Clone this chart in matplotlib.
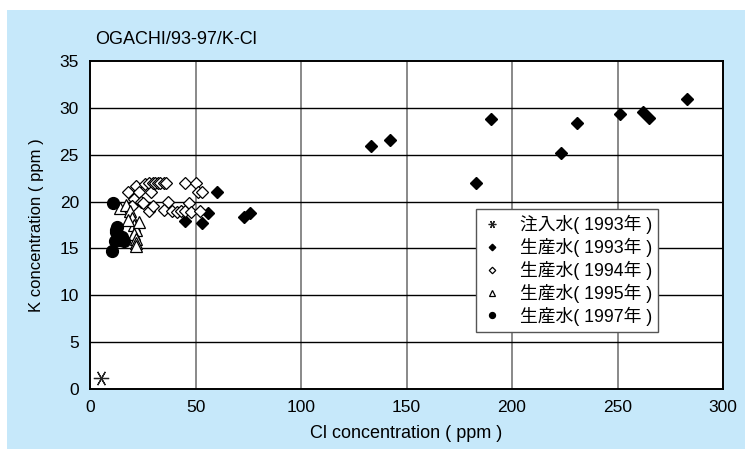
import matplotlib
matplotlib.use('Agg')
import matplotlib.pyplot as plt
from matplotlib.patches import Rectangle

plt.rcParams['font.family'] = ['Liberation Sans', 'Noto Sans CJK JP', 'DejaVu Sans']

# 注入水 1993
inj93_cl = [5]
inj93_k = [1.2]

# 生産水 1993
prod93_cl = [45, 53, 56, 60, 73, 76, 133, 142, 183, 190, 223, 231, 251, 262, 265, 283]
prod93_k = [17.9, 17.7, 18.8, 21.0, 18.4, 18.8, 25.9, 26.6, 22.0, 28.8, 25.2, 28.4, 29.3, 29.6, 28.9, 30.9]

# 生産水 1994
prod94_cl = [18, 21, 22, 23, 24, 25, 26, 28, 29, 30, 31, 32, 33, 35, 36, 37,
             28, 30, 35, 39, 41, 43, 45, 45, 47, 48, 50, 51, 52, 53, 20]
prod94_k = [21.0, 20.3, 21.7, 21.0, 20.0, 19.8, 21.9, 22.0, 21.0, 22.0, 22.0, 22.0, 22.0, 22.0, 22.0, 20.0,
            19.0, 19.5, 19.1, 19.0, 18.9, 19.0, 22.0, 19.0, 19.8, 18.9, 22.0, 21.0, 19.0, 21.0, 19.5]

# 生産水 1995
prod95_cl = [14, 17, 19, 20, 21, 22, 21, 22, 22, 22, 18, 23]
prod95_k = [19.3, 19.6, 19.0, 18.3, 17.5, 17.0, 16.5, 16.0, 15.6, 15.3, 18.0, 17.8]

# 生産水 1997
prod97_cl = [11, 10.5, 12, 12.5, 13, 13.5, 14, 15, 12.5, 16]
prod97_k = [19.9, 14.7, 15.8, 16.8, 17.3, 16.3, 15.9, 16.2, 17.0, 15.8]

x_ticks = [0, 50, 100, 150, 200, 250, 300]
y_ticks = [0, 5, 10, 15, 20, 25, 30, 35]

W, H = 745, 449
fig = plt.figure(figsize=(W / 100, H / 100), dpi=100, facecolor='white')
fig.patches.append(Rectangle((7 / W, 0), (W - 7) / W, (H - 10) / H,
                             transform=fig.transFigure, facecolor='#C6E8FA',
                             edgecolor='none', zorder=-10))

ax = fig.add_axes([90 / W, (H - 389) / H, 633 / W, 328 / H])
ax.set_zorder(1)
ax.set_facecolor('white')
ax.set_xlim(0, 300)
ax.set_ylim(0, 35)
ax.set_xticks(x_ticks)
ax.set_yticks(y_ticks)
ax.tick_params(length=0, labelsize=12.5, pad=8)
ax.tick_params(axis='y', pad=8)

for v in x_ticks[1:-1]:
    ax.axvline(v, color='#808080', lw=1.3, zorder=1)
for v in y_ticks[1:-1]:
    ax.axhline(v, color='black', lw=1.0, zorder=1)
for sp in ax.spines.values():
    sp.set_color('black')
    sp.set_linewidth(1.4)

ax.plot(inj93_cl, inj93_k, ls='none', marker=(6, 2, 90), ms=11, mew=0.9,
        color='#222222', label='注入水( 1993年 )', zorder=3)
ax.plot(prod93_cl, prod93_k, ls='none', marker='D', ms=6.6, color='black',
        label='生産水( 1993年 )', zorder=3)
ax.plot(prod94_cl, prod94_k, ls='none', marker='D', ms=6.6, mfc='white', mec='black',
        mew=0.9, label='生産水( 1994年 )', zorder=3)
ax.plot(prod95_cl, prod95_k, ls='none', marker='^', ms=8, mfc='white', mec='black',
        mew=0.9, label='生産水( 1995年 )', zorder=3)
ax.plot(prod97_cl, prod97_k, ls='none', marker='o', ms=8.5, color='black',
        label='生産水( 1997年 )', zorder=3)

leg = ax.legend(loc='upper left', bbox_to_anchor=(476 / W, (H - 209) / H),
                bbox_transform=fig.transFigure, fontsize=12.8, frameon=True,
                fancybox=False, edgecolor='#555555', framealpha=1,
                handlelength=1.1, handletextpad=1.0, borderpad=0.35,
                labelspacing=0.2, markerscale=0.5, borderaxespad=0)
leg.get_frame().set_linewidth(1.0)

ax.set_xlabel('Cl concentration ( ppm )', fontsize=13, labelpad=7)
ax.set_ylabel('K concentration ( ppm )', fontsize=12, labelpad=11)
fig.text(95 / W, 1 - 39 / H, 'OGACHI/93-97/K-Cl', fontsize=13, va='center', ha='left')

fig.savefig('out.png', dpi=100)
